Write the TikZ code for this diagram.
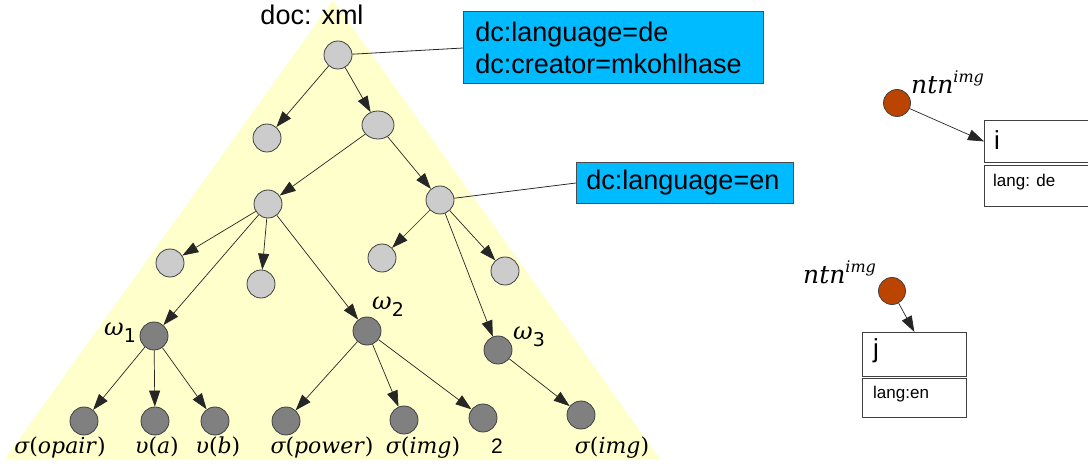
\documentclass[tikz,border=0pt]{standalone}
\usepackage{fontspec}
\setmainfont{Liberation Sans}
\newfontfamily\serifit{DejaVu Serif}
\newfontfamily\dvsans{DejaVu Sans}
\usetikzlibrary{arrows.meta,shapes.geometric}

\definecolor{docyellow}{RGB}{255,255,204}
\definecolor{nodelight}{RGB}{204,204,204}
\definecolor{nodedark}{RGB}{128,128,128}
\definecolor{metablue}{RGB}{0,187,255}
\definecolor{ntnbrown}{RGB}{187,68,0}

% symbol labels: italic function name with upright parentheses
\newcommand\fnlab[2]{{\serifit\itshape #1\upshape(\itshape #2\/\upshape)}}
\newcommand\omlab[1]{{\fontsize{24}{24}\selectfont\serifit\itshape ω}\raisebox{-7pt}{\fontsize{19}{19}\selectfont\dvsans #1}}
\newcommand\ntnlab{{\fontsize{25}{25}\selectfont\serifit\itshape ntn}\raisebox{11pt}{\fontsize{16}{16}\selectfont\serifit\itshape img}}

\tikzset{
  light/.style={circle, draw=black!75, line width=0.8pt, fill=nodelight,
                minimum size=28pt, inner sep=0pt},
  dark/.style={light, fill=nodedark},
  ntn/.style={light, fill=ntnbrown, minimum size=27pt},
  edge/.style={draw=black!85, line width=0.7pt, -{Triangle[length=16pt,width=11pt]}},
  link/.style={draw=black!85, line width=0.8pt},
  meta/.style={draw=black!70, fill=metablue, line width=0.8pt, anchor=north west,
               align=left, inner ysep=0pt, font=\fontsize{27}{32}\selectfont},
  symlab/.style={anchor=base, inner sep=0pt, font=\fontsize{22}{22}\selectfont},
  plainlab/.style={anchor=base west, inner sep=0pt},
  recbox/.style={draw=black!75, line width=0.8pt, anchor=north west, inner sep=0pt},
}

\begin{document}
\begin{tikzpicture}[x=1pt, y=-1pt]
\useasboundingbox (0,0) rectangle (1088,465);
\clip (0,0) rectangle (1088,465);

% the document tree region
\fill[docyellow] (333,0) -- (660,459) -- (5,459) -- cycle;
\node[anchor=base, inner sep=0pt, font=\fontsize{27}{27}\selectfont] (doclab) at (312,25) {doc: xml};

% upper (light) tree nodes
\node[light] (root) at (338,55) {};
\node[light] (na) at (267,138) {};
\node[light, ellipse, minimum width=32pt, minimum height=28pt] (nb) at (378,125) {};
\node[light] (nc) at (268,204) {};
\node[light] (nd) at (440,200) {};
\node[light] (l1) at (170,263) {};
\node[light] (l2) at (261,284) {};
\node[light] (l3) at (382,258) {};
\node[light] (l4) at (505,271) {};

% math nodes
\node[dark] (w1) at (154,336) {};
\node[dark] (w2) at (367,331) {};
\node[dark] (w3) at (498,350) {};
\node[dark] (d1) at (84,421) {};
\node[dark] (d2) at (155,421) {};
\node[dark] (d3) at (215,421) {};
\node[dark] (d4) at (286,421) {};
\node[dark] (d5) at (404,420) {};
\node[dark] (d6) at (483,418) {};
\node[dark] (d7) at (581,415) {};

% node labels
\node[plainlab] (w1lab) at (104,335) {\omlab{1}};
\node[plainlab] (w2lab) at (372,310) {\omlab{2}};
\node[plainlab] (w3lab) at (513,340) {\omlab{3}};
\node[symlab] (t1) at (60,453) {\fnlab{σ}{opair}};
\node[symlab] (t2) at (157,453) {\fnlab{υ}{a}};
\node[symlab] (t3) at (218,453) {\fnlab{υ}{b}};
\node[symlab] (t4) at (322,453) {\fnlab{σ}{power}};
\node[symlab] (t5) at (423,453) {\fnlab{σ}{img}};
\node[symlab, font=\fontsize{21}{21}\selectfont] (t6) at (497,453) {2};
\node[symlab] (t7) at (612,453) {\fnlab{σ}{img}};

% tree edges
\draw[edge] (root) -- (na);
\draw[edge] (root) -- (nb);
\draw[edge] (nb) -- (nc);
\draw[edge] (nb) -- (nd);
\draw[edge] (nc) -- (l1);
\draw[edge] (nc) -- (l2);
\draw[edge] (nc) -- (w1);
\draw[edge] (nc) -- (w2);
\draw[edge] (nd) -- (l3);
\draw[edge] (nd) -- (l4);
\draw[edge] (nd) -- (w3);
\draw[edge] (w1) -- (d1);
\draw[edge] (w1) -- (d2);
\draw[edge] (w1) -- (d3);
\draw[edge] (w2) -- (d4);
\draw[edge] (w2) -- (d5);
\draw[edge] (w2) -- (d6);
\draw[edge] (w3) -- (d7);

% metadata boxes
\node[meta, minimum width=300pt, minimum height=72pt, text width=276pt, inner xsep=12pt]
  (meta1) at (463,11) {dc:language=de\\dc:creator=mkohlhase};
\node[meta, minimum width=217pt, minimum height=41pt, text width=197pt, inner xsep=10pt]
  (meta2) at (576,162) {dc:language=en};
\draw[link] (root) -- (meta1.west |- 0,48);
\draw[link] (nd) -- (meta2.west |- 0,183);

% notation records
\node[ntn] (b1) at (897,103) {};
\node[plainlab] (b1lab) at (911,94) {\ntnlab};
\node[recbox, minimum width=115pt, minimum height=42pt] (ibox) at (984,120) {};
\node[recbox, minimum width=115pt, minimum height=41pt] (ilow) at (984,165) {};
\node[plainlab, font=\fontsize{26}{26}\selectfont] (itext) at (994,150) {i};
\node[plainlab, font=\fontsize{17}{17}\selectfont] (ilang) at (993,187) {lang: de};
\draw[edge] (b1) -- (ibox.west);

\node[ntn] (b2) at (892,291) {};
\node[plainlab] (b2lab) at (803,284) {\ntnlab};
\node[recbox, minimum width=104pt, minimum height=44pt] (jbox) at (862,332) {};
\node[recbox, minimum width=104pt, minimum height=39pt] (jlow) at (862,378) {};
\node[plainlab, font=\fontsize{26}{26}\selectfont] (jtext) at (873,357) {j};
\node[plainlab, font=\fontsize{17}{17}\selectfont] (jlang) at (873,398) {lang:en};
\draw[edge] (b2) -- (jbox.north);
\end{tikzpicture}
\end{document}
